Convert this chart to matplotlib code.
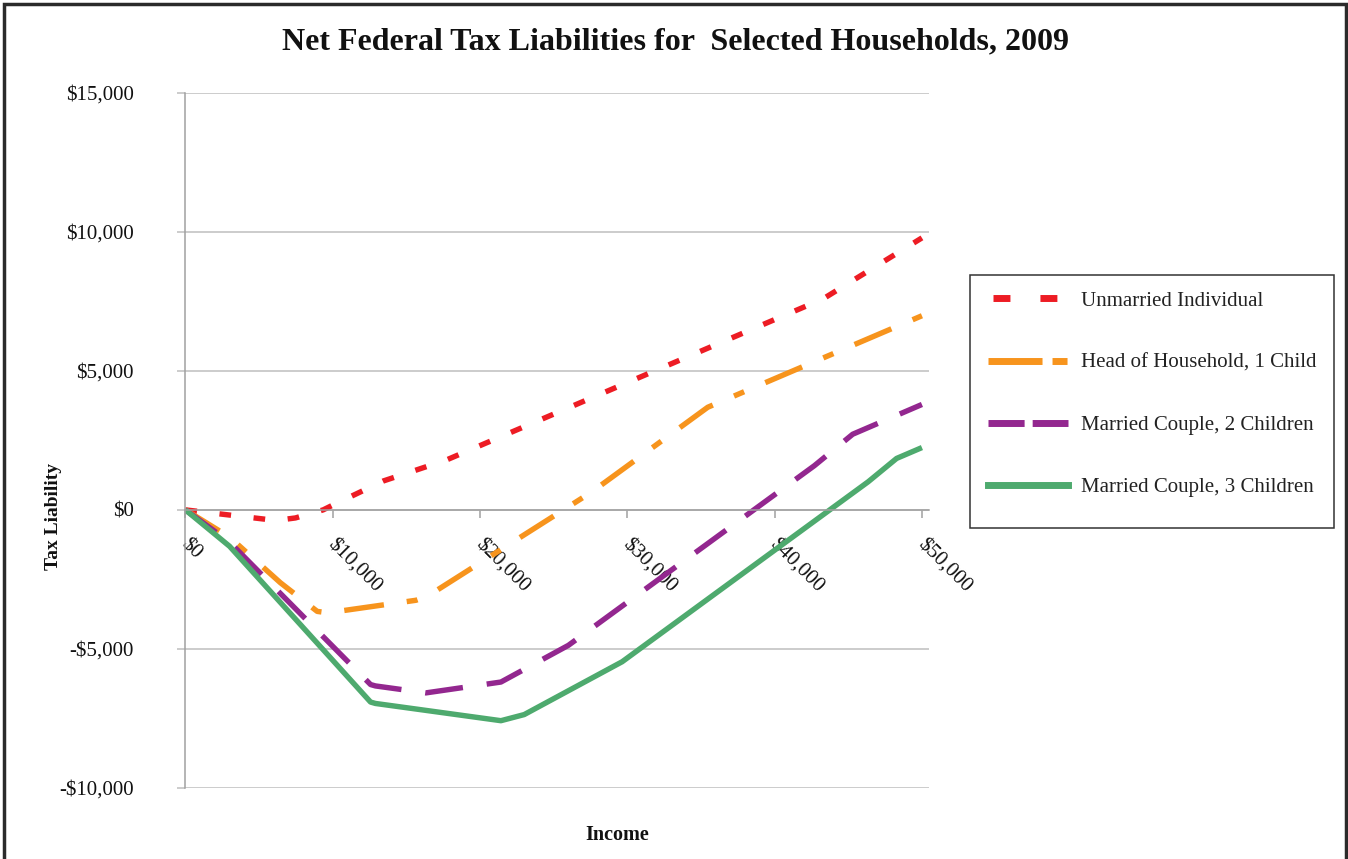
import matplotlib
matplotlib.use("Agg")
import matplotlib.pyplot as plt
from matplotlib.lines import Line2D
from matplotlib.patches import Rectangle
from matplotlib.transforms import ScaledTranslation

plt.rcParams['font.family'] = ['Liberation Serif', 'DejaVu Serif']
plt.rcParams['lines.scale_dashes'] = False

# ---- data (income in $, net tax liability in $) ----
unmarried_income = [0, 5970, 6450, 7470, 9350, 10000, 13440, 17700, 43300, 50000]
unmarried_tax = [0, -370, -360, -290, 0, 170, 1040, 1790, 7590, 9780]

hoh_income = [0, 3000, 6450, 8950, 9670, 15650, 16420, 27600, 35460, 50000]
hoh_tax = [0, -980, -2620, -3650, -3700, -3250, -3110, 650, 3690, 6980]

mc2_income = [0, 3000, 12570, 12900, 16330, 21420, 26000, 42700, 45300, 50000]
mc2_tax = [0, -1160, -6280, -6330, -6580, -6190, -4870, 1590, 2720, 3790]

mc3_income = [0, 3000, 12570, 12900, 21420, 23000, 29650, 46350, 48280, 50000]
mc3_tax = [0, -1310, -6910, -6960, -7580, -7360, -5460, 1010, 1850, 2240]

series_labels = ["Unmarried Individual", "Head of Household, 1 Child",
                 "Married Couple, 2 Children", "Married Couple, 3 Children"]
x_ticks = [0, 10000, 20000, 30000, 40000, 50000]
x_tick_labels = ["$0", "$10,000", "$20,000", "$30,000", "$40,000", "$50,000"]
y_ticks = [-10000, -5000, 0, 5000, 10000, 15000]
y_tick_labels = ["-$10,000", "-$5,000", "$0", "$5,000", "$10,000", "$15,000"]

RED = "#ED1C24"
ORANGE = "#F7941D"
PURPLE = "#93278F"
GREEN = "#4EAA6E"
GRID = "#BFBFBF"
AX = "#A0A0A0"

W, H = 1348, 859
fig = plt.figure(figsize=(W / 100, H / 100), dpi=100)
fig.patch.set_facecolor("white")

# outer border
fig.add_artist(Rectangle((4 / W, -0.05), (1346 - 4) / W, 1 - 4 / H + 0.05,
                         transform=fig.transFigure, fill=False,
                         edgecolor="#2b2b2b", linewidth=2.5))

ax = fig.add_axes([185.4 / W, 1 - 788 / H, (929 - 185.4) / W, (788 - 92.7) / H])
ax.set_xlim(0, 50480)
ax.set_ylim(-10000, 15000)

lw = 3.9
ax.plot(unmarried_income, unmarried_tax, color=RED, lw=lw,
        linestyle=(0, (8.4, 16.3)), solid_joinstyle='round')
ax.plot(hoh_income, hoh_tax, color=ORANGE, lw=lw,
        linestyle=(0, (28.8, 16.6, 7.9, 16.6)))
ax.plot(mc2_income, mc2_tax, color=PURPLE, lw=lw,
        linestyle=(0, (27.4, 17.3)))
ax.plot(mc3_income, mc3_tax, color=GREEN, lw=lw, linestyle='-',
        solid_joinstyle='round', solid_capstyle='butt')

# grid lines (horizontal)
ax.set_yticks(y_ticks)
ax.set_yticklabels(y_tick_labels, fontsize=15)
ax.yaxis.grid(True, color=GRID, linewidth=1.1)
ax.set_axisbelow(True)
ax.tick_params(axis='y', direction='out', length=6, width=1.1, color=GRID,
               pad=31, labelcolor="#111111")

# x axis at zero
ax.spines['bottom'].set_position(('data', 0))
ax.spines['bottom'].set_color(AX)
ax.spines['bottom'].set_linewidth(1.1)
ax.spines['left'].set_color(AX)
ax.spines['left'].set_linewidth(1.1)
ax.spines['top'].set_visible(False)
ax.spines['right'].set_visible(False)
ax.set_xticks(x_ticks)
ax.set_xticklabels(x_tick_labels, rotation=-45, ha='left', va='top',
                   rotation_mode='anchor', fontsize=15, color="#111111")
ax.tick_params(axis='x', direction='out', length=6, width=1.1, color=AX, pad=12)
shift = ScaledTranslation(5 / 100, 0, fig.dpi_scale_trans)
for lab in ax.get_xticklabels():
    lab.set_transform(lab.get_transform() + shift)

# titles
fig.text(676 / W, 1 - 49 / H, "Net Federal Tax Liabilities for  Selected Households, 2009",
         ha='center', va='baseline', fontsize=23, fontweight='bold', color="#111111")
fig.text(53 / W, 1 - 516 / H, "Tax Liability", rotation=90, ha='center', va='center',
         fontsize=14, fontweight='bold', color="#111111")
fig.text(617 / W, 1 - 835 / H, "Income", ha='center', va='center',
         fontsize=14.5, fontweight='bold', color="#111111")

# legend box
fig.add_artist(Rectangle((970 / W, 1 - 528 / H), (1334 - 970) / W, (528 - 275) / H,
                         transform=fig.transFigure, fill=False,
                         edgecolor="#333333", linewidth=1.1))
llw = 5.0
handles = [
    Line2D([], [], color=RED, lw=llw, linestyle=(30.2, (12.2, 21.6))),
    Line2D([], [], color=ORANGE, lw=llw, linestyle=(0, (38.9, 7.2, 10.8, 7.2))),
    Line2D([], [], color=PURPLE, lw=llw, linestyle=(0, (26.0, 5.8))),
    Line2D([], [], color=GREEN, lw=llw, linestyle='-'),
]
leg = fig.legend(handles, series_labels, loc='upper left',
                 bbox_to_anchor=(988 / W, 1 - 291 / H), bbox_transform=fig.transFigure,
                 frameon=False, fontsize=15, handlelength=3.84, handletextpad=0.62,
                 labelspacing=2.05, borderpad=0, borderaxespad=0)
for t in leg.get_texts():
    t.set_color("#222222")

fig.savefig("out.png", dpi=100, facecolor="white")
